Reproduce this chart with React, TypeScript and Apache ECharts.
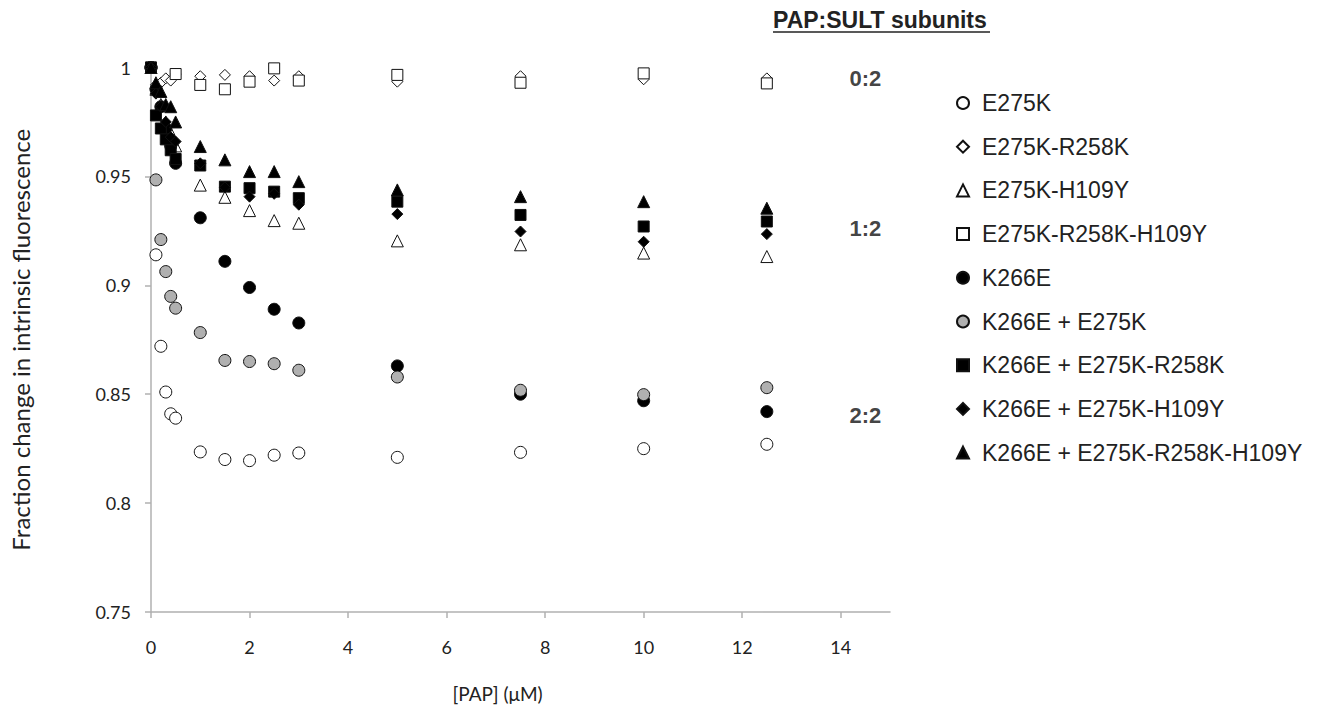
import React, { useEffect, useRef } from "react";
import * as echarts from "echarts";

const X_TICKS = [0, 2, 4, 6, 8, 10, 12, 14];
const Y_TICKS = [0.75, 0.8, 0.85, 0.9, 0.95, 1];
const X_ALL = [0, 0.1, 0.2, 0.3, 0.4, 0.5, 1, 1.5, 2, 2.5, 3, 5, 7.5, 10, 12.5];
const X_SQ = [0, 0.5, 1, 1.5, 2, 2.5, 3, 5, 7.5, 10, 12.5];

const E275K = [1, 0.914, 0.872, 0.851, 0.841, 0.839, 0.8235, 0.82, 0.8195, 0.822, 0.823, 0.821, 0.8233, 0.825, 0.827];
const E275K_R258K = [1, 0.992, 0.993, 0.995, 0.994, 0.997, 0.996, 0.9966, 0.996, 0.994, 0.996, 0.9935, 0.996, 0.9946, 0.995];
const E275K_H109Y = [1, 0.99, 0.983, 0.975, 0.97, 0.964, 0.946, 0.9404, 0.9343, 0.9297, 0.9285, 0.9204, 0.9186, 0.9148, 0.9132];
const E275K_R258K_H109Y = [1, 0.997, 0.992, 0.99, 0.9935, 0.9996, 0.994, 0.9966, 0.993, 0.9973, 0.9927];
const K266E = [1, 0.99, 0.982, 0.972, 0.964, 0.956, 0.931, 0.911, 0.899, 0.889, 0.8827, 0.863, 0.85, 0.847, 0.842];
const K266E_E275K = [1, 0.9484, 0.921, 0.9063, 0.8949, 0.8895, 0.8783, 0.8655, 0.865, 0.864, 0.861, 0.8579, 0.8518, 0.8498, 0.853];
const K266E_E275K_R258K = [1, 0.978, 0.972, 0.967, 0.962, 0.958, 0.955, 0.9453, 0.9446, 0.943, 0.94, 0.9384, 0.9323, 0.927, 0.9293];
const K266E_E275K_H109Y = [1, 0.988, 0.982, 0.975, 0.968, 0.966, 0.956, 0.945, 0.9407, 0.942, 0.937, 0.9327, 0.9247, 0.92, 0.9235];
const K266E_E275K_R258K_H109Y = [1, 0.993, 0.989, 0.983, 0.982, 0.975, 0.9637, 0.9576, 0.9522, 0.9522, 0.9476, 0.9438, 0.9407, 0.9384, 0.9354];

const GROUP_LABELS = ["0:2", "1:2", "2:2"];
const GROUP_VALUES = [0.995, 0.926, 0.84];

export default function App() {
  const ref = useRef<HTMLDivElement>(null);
  useEffect(() => {
    const chart = echarts.init(ref.current!, null, { renderer: "svg" });
    const pair = (xs: number[], ys: number[]) => ys.map((y, i) => [xs[i], y]);
    const mk = (name: string, xs: number[], ys: number[], symbol: string, size: number, fill: string) => ({
      name,
      type: "scatter",
      data: pair(xs, ys),
      symbol,
      symbolSize: size,
      itemStyle: { color: fill, borderColor: "#111", borderWidth: 1, opacity: 1 },
      emphasis: { disabled: true },
    });
    const series: any[] = [
      mk("E275K", X_ALL, E275K, "circle", 12, "#ffffff"),
      mk("E275K-R258K", X_ALL, E275K_R258K, "diamond", 11, "#ffffff"),
      mk("E275K-H109Y", X_ALL, E275K_H109Y, "triangle", 12, "#ffffff"),
      mk("E275K-R258K-H109Y", X_SQ, E275K_R258K_H109Y, "rect", 11, "#ffffff"),
      mk("K266E", X_ALL, K266E, "circle", 12, "#000000"),
      mk("K266E + E275K", X_ALL, K266E_E275K, "circle", 12, "#b0b0b0"),
      mk("K266E + E275K-R258K", X_ALL, K266E_E275K_R258K, "rect", 11, "#000000"),
      mk("K266E + E275K-H109Y", X_ALL, K266E_E275K_H109Y, "diamond", 11, "#000000"),
      mk("K266E + E275K-R258K-H109Y", X_ALL, K266E_E275K_R258K_H109Y, "triangle", 12, "#000000"),
    ];
    const axisCol = "#b0b0b0";
    const tickFont = { fontFamily: "Lato", fontSize: 18, color: "#222" };
    chart.setOption({
      animation: false,
      grid: { left: 150, right: 438, top: 67.5, bottom: 97 },
      xAxis: {
        type: "value",
        min: 0,
        max: 15,
        interval: 2,
        name: "[PAP] (μM)",
        nameLocation: "middle",
        nameGap: 72,
        nameTextStyle: { fontFamily: "Lato", fontSize: 19, color: "#222", padding: [0, 46, 0, 0] },
        axisLine: { show: true, lineStyle: { color: axisCol, width: 1.5 } },
        axisTick: { show: true, length: 6, customValues: X_TICKS, lineStyle: { color: axisCol, width: 1.5 } },
        axisLabel: { customValues: X_TICKS, margin: 26, ...tickFont },
        splitLine: { show: false },
      },
      yAxis: {
        type: "value",
        min: 0.75,
        max: 1,
        interval: 0.05,
        name: "Fraction change in intrinsic fluorescence",
        nameLocation: "middle",
        nameGap: 119,
        nameTextStyle: { fontFamily: "Lato", fontSize: 24, color: "#222" },
        axisLine: { show: true, lineStyle: { color: axisCol, width: 1.5 } },
        axisTick: { show: true, length: 6, customValues: Y_TICKS, lineStyle: { color: axisCol, width: 1.5 } },
        axisLabel: {
          customValues: Y_TICKS,
          margin: 20,
          formatter: (v: number) => String(+v.toFixed(2)),
          ...tickFont,
        },
        splitLine: { show: false },
      },
      legend: {
        orient: "vertical",
        left: 951,
        top: 86,
        itemWidth: 12,
        itemHeight: 12,
        itemGap: 19.7,
        symbolKeepAspect: true,
        textStyle: { fontFamily: "Liberation Sans", fontSize: 23, color: "#222", lineHeight: 24, padding: [0, 0, 0, 8] },
        data: series.map((s) => s.name),
      },
      graphic: [
        {
          type: "text",
          left: 773,
          top: 8,
          style: { text: "PAP:SULT subunits", font: "bold 23px 'Liberation Sans'", fill: "#222" },
        },
        {
          type: "line",
          shape: { x1: 773, y1: 32, x2: 990, y2: 32 },
          style: { stroke: "#222", lineWidth: 1.5 },
        },
      ],
      series: [
        ...series,
        {
          type: "scatter",
          name: "groups",
          data: GROUP_VALUES.map((v, i) => ({ value: [14.5, v], name: GROUP_LABELS[i] })),
          symbolSize: 0,
          silent: true,
          label: {
            show: true,
            position: "inside",
            formatter: (p: any) => p.name,
            fontFamily: "Liberation Sans",
            fontWeight: "bold",
            fontSize: 22,
            color: "#111",
            textBorderWidth: 0,
          },
        },
      ],
    });
    return () => chart.dispose();
  }, []);
  return <div ref={ref} style={{ position: "absolute", left: 0, top: 0, width: 1328, height: 709 }} />;
}
